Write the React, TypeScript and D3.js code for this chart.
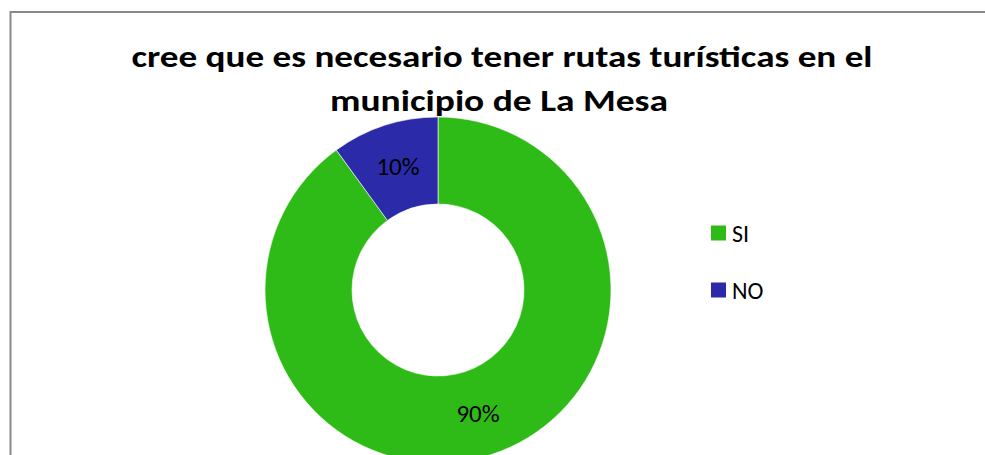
import React from "react";
import * as d3 from "d3";

const categories = ["SI", "NO"];
const values = [90, 10];
const labels = ["90%", "10%"];
const colors = ["#2EBB17", "#2B2BA9"];
const titleLines = [
  "cree que es necesario tener rutas turísticas en el",
  "municipio de La Mesa",
];

export default function App() {
  const W = 985;
  const H = 455;
  const cx = 438;
  const cy = 290;
  const outerR = 173;
  const innerR = 86;
  const font = "Carlito, Calibri, 'Open Sans', Lato, sans-serif";

  const pie = d3.pie<number>().sort(null).value((d) => d);
  const arcs = pie(values);
  const arc = d3.arc<d3.PieArcDatum<number>>().innerRadius(innerR).outerRadius(outerR);

  const color = d3.scaleOrdinal<string, string>().domain(categories).range(colors);
  const legendY = d3.scalePoint<string>().domain(categories).range([233, 290]);

  return (
    <svg
      width={W}
      height={H}
      style={{ position: "fixed", left: 0, top: 0, background: "#fff", overflow: "hidden" }}
    >
      <line x1={10.5} y1={H} x2={10.5} y2={11} stroke="#898989" strokeWidth={2} />
      <line x1={10} y1={12} x2={W} y2={12} stroke="#898989" strokeWidth={2} />
      <g transform={`translate(${cx},${cy})`}>
        {arcs.map((a, i) => (
          <path key={i} d={arc(a) || ""} fill={color(categories[i])} stroke="#fff" strokeWidth={0.6} />
        ))}
      </g>
      <g fontFamily={font} fontWeight="bold" fontSize={30} fill="#000" textAnchor="middle">
        <text x={502} y={67} textLength={741} lengthAdjust="spacingAndGlyphs">{titleLines[0]}</text>
        <text x={499} y={111} textLength={338} lengthAdjust="spacingAndGlyphs">{titleLines[1]}</text>
      </g>
      <g transform={`translate(${cx},${cy})`} fontFamily={font} fontSize={25} fill="#000" textAnchor="middle">
        {arcs.map((a, i) => {
          const [x, y] = arc.centroid(a);
          return (
            <text key={i} x={x} y={y} dominantBaseline="central">
              {labels[i]}
            </text>
          );
        })}
      </g>
      <g fontFamily={font} fontSize={24} fill="#000">
        {categories.map((c) => (
          <g key={c} transform={`translate(711,${legendY(c)})`}>
            <rect x={0} y={-7.5} width={15} height={15} fill={color(c)} />
            <text x={21} y={0} dominantBaseline="central">{c}</text>
          </g>
        ))}
      </g>
    </svg>
  );
}
